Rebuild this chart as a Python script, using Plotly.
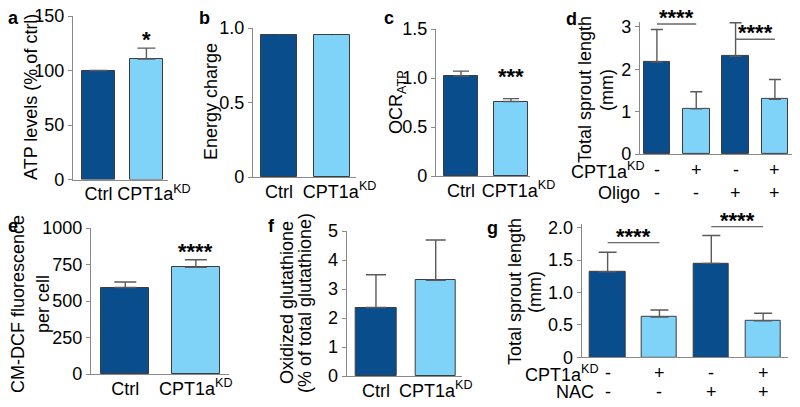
import plotly.graph_objects as go

W, H = 800, 407
OFF = 8  # page body margin offset of the plot div
DARK = "#0a4d8c"
LIGHT = "#80d3f8"
AXC = "#8a8a8a"
ERRC = "#5a5a5a"
FONT = "Liberation Sans, Arial, sans-serif"
NB = "\u00a0"

# ---------------- data ----------------
top_cats = ["Ctrl", NB * 3 + "CPT1a<sup>KD</sup>"]
bottom_cats = ["Ctrl", "CPT1a<sup>KD</sup>"]

a_vals = [100, 110.5]
a_err = [0, 10]
a_ticks = [0, 50, 100, 150]
a_ticktext = ["0", "50", "100", "150"]

b_vals = [0.952, 0.950]
b_err = [0.002, 0.002]
b_ticks = [0, 0.5, 1.0]
b_ticktext = ["0", "0.5", "1.0"]

c_vals = [1.02, 0.76]
c_err = [0.05, 0.03]
c_ticks = [0, 0.5, 1.0, 1.5]
c_ticktext = ["0", "0.5", "1.0", "1.5"]

d_vals = [2.17, 1.07, 2.31, 1.29]
d_err = [0.77, 0.40, 0.79, 0.47]
d_cpt = ["-", "+", "-", "+"]
d_oligo = ["-", "-", "+", "+"]
d_ticks = [0, 1, 2, 3]
d_ticktext = ["0", "1", "2", "3"]

e_vals = [592, 731]
e_err = [38, 52]
e_ticks = [0, 250, 500, 750, 1000]
e_ticktext = ["0", "250", "500", "750", "1000"]

f_vals = [2.36, 3.30]
f_err = [1.13, 1.39]
f_ticks = [0, 1, 2, 3, 4, 5]
f_ticktext = ["0", "1", "2", "3", "4", "5"]

g_vals = [1.32, 0.62, 1.45, 0.565]
g_err = [0.30, 0.11, 0.43, 0.115]
g_cpt = ["-", "+", "-", "+"]
g_nac = ["-", "-", "+", "+"]
g_ticks = [0, 0.5, 1.0, 1.5, 2.0]
g_ticktext = ["0", "0.5", "1.0", "1.5", "2.0"]

# ---------------- layout helpers ----------------
FW, FH = W - OFF, H - OFF

def px(x):
    return (x - OFF) / FW

def py(y):
    return 1 - (y - OFF) / FH

panels = [
    dict(vals=a_vals, err=a_err, cats=top_cats, tv=a_ticks, tt=a_ticktext,
         xd=(73, 168), yd=(16, 179.5), xr=[-0.53, 1.45], yr=[0, 150], cap=9),
    dict(vals=b_vals, err=b_err, cats=top_cats, tv=b_ticks, tt=b_ticktext,
         xd=(253, 356), yd=(28, 177), xr=[-0.49, 1.45], yr=[0, 1.0], cap=0),
    dict(vals=c_vals, err=c_err, cats=top_cats, tv=c_ticks, tt=c_ticktext,
         xd=(436, 530), yd=(29, 176), xr=[-0.5, 1.38], yr=[0, 1.5], cap=8),
    dict(vals=d_vals, err=d_err, cats=None, tv=d_ticks, tt=d_ticktext,
         xd=(640, 793), yd=(21.9, 154), xr=[-0.43, 3.46], yr=[0, 3.12], cap=6),
    dict(vals=e_vals, err=e_err, cats=bottom_cats, tv=e_ticks, tt=e_ticktext,
         xd=(91, 229), yd=(228, 374), xr=[-0.486, 1.47], yr=[0, 1000], cap=11),
    dict(vals=f_vals, err=f_err, cats=bottom_cats, tv=f_ticks, tt=f_ticktext,
         xd=(346.7, 461.7), yd=(231, 376), xr=[-0.49, 1.435], yr=[0, 5], cap=10),
    dict(vals=g_vals, err=g_err, cats=None, tv=g_ticks, tt=g_ticktext,
         xd=(581.7, 788), yd=(223.8, 357.3), xr=[-0.5, 3.48], yr=[0, 2.06], cap=9),
]

fig = go.Figure()
layout = dict(
    template="none",
    width=FW, height=FH, margin=dict(l=0, r=0, t=0, b=0, pad=0, autoexpand=False),
    paper_bgcolor="white", plot_bgcolor="white", showlegend=False,
    font=dict(family=FONT, size=18, color="black"),
    bargap=0,
)

for i, p in enumerate(panels, start=1):
    n = len(p["vals"])
    xs = list(range(n))
    cols = [DARK if k % 2 == 0 else LIGHT for k in range(n)]
    fig.add_trace(go.Bar(
        x=xs, y=p["vals"], width=0.68,
        marker=dict(color=cols, line=dict(color="#3c3c3c", width=1)),
        error_y=dict(type="data", symmetric=False, array=p["err"],
                     arrayminus=[0] * n, color=ERRC, thickness=1.4,
                     width=p["cap"]),
        xaxis=f"x{i}", yaxis=f"y{i}",
    ))
    sfx = "" if i == 1 else str(i)
    layout[f"xaxis{sfx}"] = dict(
        domain=[px(p["xd"][0]), px(p["xd"][1])], range=p["xr"],
        anchor=f"y{i}", showline=True, linecolor=AXC, linewidth=1.3,
        ticks="", showgrid=False, zeroline=False, automargin=False,
        tickangle=0, ticklabelstandoff=-2, ticklabeloverflow="allow",
        tickvals=xs if p["cats"] else [], ticktext=p["cats"] if p["cats"] else [],
        tickfont=dict(size=18), fixedrange=True,
    )
    layout[f"yaxis{sfx}"] = dict(
        domain=[py(p["yd"][1]), py(p["yd"][0])], range=p["yr"],
        anchor=f"x{i}", showline=True, linecolor=AXC, linewidth=1.3,
        ticks="outside", ticklen=4, tickcolor=AXC, tickwidth=1.3,
        showgrid=False, zeroline=False, automargin=False,
        ticklabeloverflow="allow",
        tickvals=p["tv"], ticktext=p["tt"], tickfont=dict(size=18),
        fixedrange=True,
    )

fig.update_layout(**layout)


def ydata_to_paper(i, v):
    p = panels[i - 1]
    d0, d1 = py(p["yd"][1]), py(p["yd"][0])
    r0, r1 = p["yr"]
    return d0 + (v - r0) / (r1 - r0) * (d1 - d0)


ann = []

def label(text, x, y):
    ann.append(dict(text=f"<b>{text}</b>", x=px(x), y=py(y), xref="paper", yref="paper",
                    showarrow=False, font=dict(size=18), xanchor="center", yanchor="middle"))

def ytitle(text, x, y, size=18):
    ann.append(dict(text=text, x=px(x), y=py(y), xref="paper", yref="paper",
                    showarrow=False, textangle=-90, font=dict(size=size),
                    xanchor="center", yanchor="middle"))

def stars(text, axis_i, x, y):
    ann.append(dict(text=f"<b>{text}</b>", x=x, y=ydata_to_paper(axis_i, y),
                    xref=f"x{axis_i}", yref="paper",
                    showarrow=False, font=dict(size=22), xanchor="center", yanchor="middle"))

# panel labels
label("a", 13, 18)
label("b", 204, 18)
label("c", 389, 18)
label("d", 571, 19)
label("e", 13, 226)
label("f", 271, 226)
label("g", 492, 228)

# y titles
ytitle("ATP levels (% of ctrl)", 31, 97)
ytitle("Energy charge", 211, 102)
ytitle("OCR<sub>ATP</sub>", 397, 102)
ytitle("Total sprout length", 585, 90)
ytitle("(mm)", 607, 90)
ytitle("CM-DCF fluorescence", 18, 304)
ytitle("per cell", 43, 304)
ytitle("Oxidized glutathione", 287, 303)
ytitle("(% of total glutathione)", 305, 303)
ytitle("Total sprout length", 515, 292)
ytitle("(mm)", 535, 292)

# significance stars
stars("*", 1, 1, 128)
stars("***", 3, 1, 1.02)
stars("****", 5, 1, 840)
stars("****", 4, 0.5, 3.22)
stars("****", 4, 2.5, 2.86)
stars("****", 7, 0.5, 1.87)
stars("****", 7, 2.5, 2.11)

# significance bars
shapes = []
def sigline(axis_i, x0, x1, y):
    shapes.append(dict(type="line", xref=f"x{axis_i}", yref="paper",
                       x0=x0, x1=x1, y0=ydata_to_paper(axis_i, y), y1=ydata_to_paper(axis_i, y),
                       line=dict(color="#6a6a6a", width=1.3)))
sigline(4, 0, 1, 3.07)
sigline(4, 2, 3, 2.71)
sigline(7, 0, 1, 1.77)
sigline(7, 2, 3, 2.015)

# condition rows
def row(axis_i, labeltext, signs, y, label_right):
    ann.append(dict(text=labeltext, x=px(label_right), y=py(y), xref="paper", yref="paper",
                    showarrow=False, font=dict(size=18), xanchor="right", yanchor="middle"))
    for k, s in enumerate(signs):
        ann.append(dict(text=s, x=k, y=py(y), xref=f"x{axis_i}", yref="paper",
                        showarrow=False, font=dict(size=18), xanchor="center", yanchor="middle"))

row(4, "CPT1a<sup>KD</sup>", d_cpt, 170, 647)
row(4, "Oligo", d_oligo, 193, 642)
row(7, "CPT1a<sup>KD</sup>", g_cpt, 373, 601)
row(7, "NAC", g_nac, 392, 596)

fig.update_layout(annotations=ann, shapes=shapes)
fig.write_html("out.html")
